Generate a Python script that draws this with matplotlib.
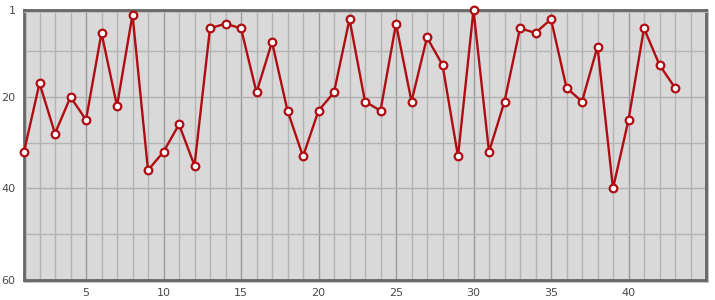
import matplotlib
matplotlib.use("Agg")
import matplotlib.pyplot as plt
from matplotlib.ticker import MultipleLocator, FixedLocator
import matplotlib.patheffects as pe

x_values = list(range(1, 44))
ranks = [32, 17, 28, 20, 25, 6, 22, 2, 36, 32,
         26, 35, 5, 4, 5, 19, 8, 23, 33, 23,
         19, 3, 21, 23, 4, 21, 7, 13, 33, 1,
         32, 21, 5, 6, 3, 18, 21, 9, 40, 25,
         5, 13, 18]
x_ticks = [5, 10, 15, 20, 25, 30, 35, 40]
y_ticks = [1, 20, 40, 60]
y_minor = [10, 30, 50]

fig = plt.figure(figsize=(7.15, 3.0), dpi=100)
ax = fig.add_axes([24/715, 1-280/300, (706-24)/715, 270/300])
ax.set_facecolor("#d9d9d9")

ax.set_xlim(1, 45)
ax.set_ylim(60, 1)

ax.xaxis.set_major_locator(FixedLocator(x_ticks))
ax.xaxis.set_minor_locator(MultipleLocator(1))
ax.yaxis.set_major_locator(FixedLocator(y_ticks))
ax.yaxis.set_minor_locator(FixedLocator(y_minor))

ax.grid(which="minor", color="#b4b4b4", linewidth=1.0)
ax.grid(which="major", axis="x", color="#999999", linewidth=1.0)
ax.grid(which="major", axis="y", color="#b0b0b0", linewidth=1.0)
ax.set_axisbelow(True)

ax.tick_params(which="both", length=0)
ax.tick_params(axis="x", pad=6, labelsize=8, labelcolor="#4a4a4a")
ax.tick_params(axis="y", pad=6, labelsize=8, labelcolor="#4a4a4a")

for s in ax.spines.values():
    s.set_color("#666666")
    s.set_linewidth(2)
    s.set_path_effects([pe.SimpleLineShadow(offset=(1, -1), shadow_color="#bbbbbb", alpha=1), pe.Normal()])

ax.plot(x_values, ranks, color="#b00d12", linewidth=1.7,
        marker="o", markersize=5.5, markerfacecolor="white",
        markeredgecolor="#b00d12", markeredgewidth=1.6, clip_on=False, zorder=3)

fig.savefig("out.png", dpi=100)
